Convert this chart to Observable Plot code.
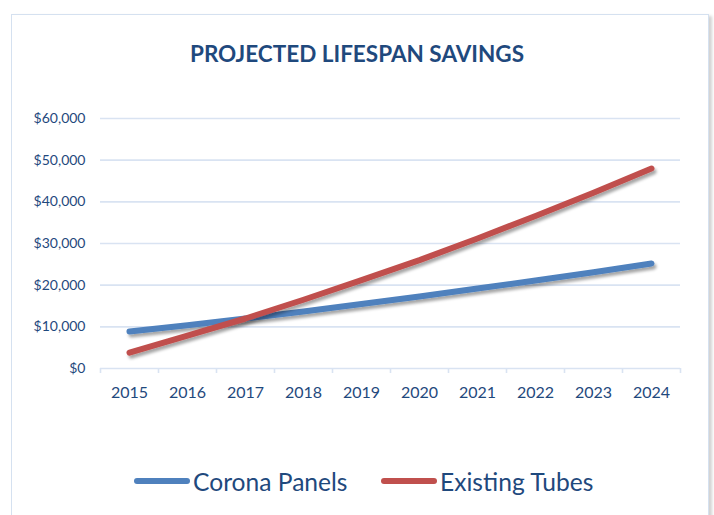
<!DOCTYPE html>
<html>
<head>
<meta charset="utf-8">
<script src="https://cdn.jsdelivr.net/npm/d3@7"></script>
<script src="https://cdn.jsdelivr.net/npm/@observablehq/plot@0.6"></script>
<style>
  html, body { margin: 0; padding: 0; background: #fff; }
  body { width: 714px; height: 515px; overflow: hidden; position: relative; font-family: Lato, "Open Sans", sans-serif; }
  #frame { position: absolute; left: 11px; top: 14px; width: 696px; height: 560px; border: 1.5px solid #D5E1F0; box-shadow: 3px 2px 3px rgba(0,0,0,0.18); background: #fff; }
  #title { position: absolute; left: 0; top: 43px; width: 714px; text-align: center; font-size: 22.5px; line-height: 1; font-weight: 700; color: #1F497D; }
  #chart { position: absolute; left: 0; top: 100px; }
  .leg { position: absolute; top: 467px; height: 28px; display: flex; align-items: center; font-size: 24.6px; color: #1F497D; }
  .sw { width: 56px; height: 6px; border-radius: 3px; margin-right: 3px; }
</style>
</head>
<body>
<div id="frame"></div>
<div id="title"></div>
<div id="chart"></div>
<div id="legend"></div>
<script>
const title = "PROJECTED LIFESPAN SAVINGS";
const years = [2015, 2016, 2017, 2018, 2019, 2020, 2021, 2022, 2023, 2024];
const coronaPanels = [8900, 10400, 12000, 13700, 15500, 17300, 19200, 21100, 23100, 25200];
const existingTubes = [3800, 7900, 12000, 16500, 21200, 26000, 31200, 36600, 42200, 48000];
const seriesNames = ["Corona Panels", "Existing Tubes"];
const seriesColors = ["#4F81BD", "#C0504D"];
const yTicks = [0, 10000, 20000, 30000, 40000, 50000, 60000];

const textColor = "#1F497D";
const gridColor = "#D9E3F2";

const seriesValues = [coronaPanels, existingTubes];
const data = seriesNames.flatMap((name, s) =>
  years.map((year, i) => ({ year, value: seriesValues[s][i], series: name }))
);
const boundaries = years.map(y => y - 0.5).concat([years[years.length - 1] + 0.5]);

document.getElementById("title").textContent = title;

const plot = Plot.plot({
  width: 714,
  height: 310,
  marginLeft: 100,
  marginRight: 34,
  marginTop: 18,
  marginBottom: 42,
  style: { fontFamily: "Lato, 'Open Sans', sans-serif", background: "transparent", overflow: "visible" },
  x: { type: "linear", domain: [boundaries[0], boundaries[boundaries.length - 1]], axis: null, label: null },
  y: { domain: [0, 60000], axis: null, label: null },
  color: { domain: seriesNames, range: seriesColors },
  marks: [
    Plot.ruleY(yTicks, { stroke: gridColor, strokeWidth: 1.6 }),
    Plot.axisX(boundaries, { tickSize: 5, tickFormat: () => "", stroke: gridColor, strokeWidth: 1.6, label: null }),
    Plot.axisX(years, { tickSize: 0, tickPadding: 18, tickFormat: d => String(d), fontSize: 16, fill: textColor, label: null }),
    Plot.axisY(yTicks, { tickSize: 0, tickPadding: 15, tickFormat: d3.format("$,"), fontSize: 14, fill: textColor, label: null }),
    Plot.line(data, { x: "year", y: "value", z: "series", stroke: "series", strokeWidth: 6, strokeLinecap: "round", strokeLinejoin: "round" })
  ]
});

// drop shadow for the series lines
const svg = d3.select(plot);
const defs = svg.insert("defs", ":first-child");
defs.append("filter").attr("id", "shadow").attr("x", "-10%").attr("y", "-10%").attr("width", "130%").attr("height", "140%")
  .append("feDropShadow").attr("dx", 2).attr("dy", 3).attr("stdDeviation", 1.6)
  .attr("flood-color", "#000").attr("flood-opacity", 0.35);
svg.selectAll("g[aria-label='line'] path").attr("filter", "url(#shadow)");

document.getElementById("chart").appendChild(plot);

// legend
const legend = document.getElementById("legend");
const legendLefts = [134, 381];
seriesNames.forEach((name, i) => {
  const item = document.createElement("div");
  item.className = "leg";
  item.style.left = legendLefts[i] + "px";
  const sw = document.createElement("div");
  sw.className = "sw";
  sw.style.background = seriesColors[i];
  const label = document.createElement("span");
  label.textContent = name;
  item.appendChild(sw);
  item.appendChild(label);
  legend.appendChild(item);
});
</script>
</body>
</html>
